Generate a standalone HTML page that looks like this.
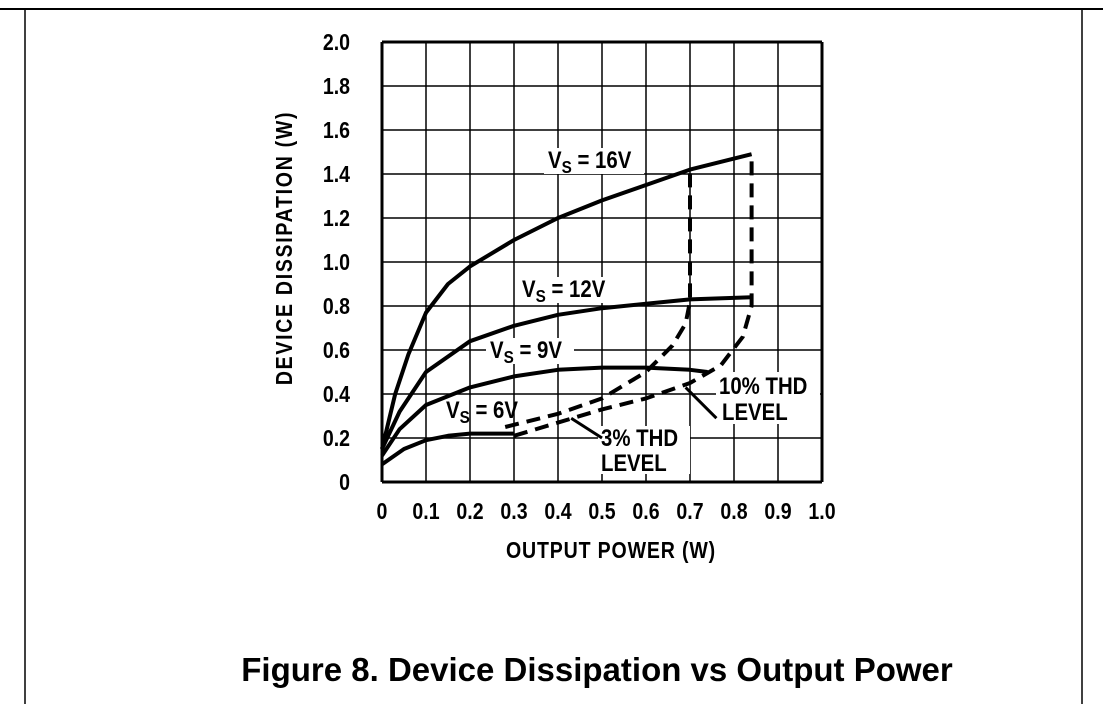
<!DOCTYPE html>
<html><head><meta charset="utf-8"><style>
body{margin:0;background:#fff;width:1103px;height:704px;overflow:hidden}
svg text{font-family:"Liberation Sans",sans-serif;font-weight:bold;fill:#000}
</style></head><body>
<svg id="chart" width="1103" height="704" xmlns="http://www.w3.org/2000/svg">
<line x1="0" y1="9" x2="1103" y2="9" stroke="#000" stroke-width="2"/>
<line x1="25" y1="9" x2="25" y2="704" stroke="#000" stroke-width="1.5"/>
<line x1="1082" y1="9" x2="1082" y2="704" stroke="#000" stroke-width="1.5"/>
<g id="grid"></g>
<g id="ticks"></g>
<g id="series"></g>
<text transform="translate(292,248) rotate(-90) scale(0.85,1)" text-anchor="middle" font-size="23" letter-spacing="2">DEVICE DISSIPATION (W)</text>
<text transform="translate(611,558) scale(0.85,1)" text-anchor="middle" font-size="23" letter-spacing="1">OUTPUT POWER (W)</text>
<text x="597" y="681" text-anchor="middle" font-size="33">Figure 8. Device Dissipation vs Output Power</text>
</svg>
<script>
const xTicks=["0","0.1","0.2","0.3","0.4","0.5","0.6","0.7","0.8","0.9","1.0"];
const yTicks=["0","0.2","0.4","0.6","0.8","1.0","1.2","1.4","1.6","1.8","2.0"];
const vs16=[[0,0.15],[0.03,0.4],[0.06,0.58],[0.1,0.77],[0.15,0.9],[0.2,0.98],[0.3,1.1],[0.4,1.2],[0.5,1.28],[0.6,1.35],[0.7,1.42],[0.8,1.47],[0.84,1.49]];
const vs12=[[0,0.15],[0.04,0.32],[0.1,0.5],[0.2,0.64],[0.3,0.71],[0.4,0.76],[0.5,0.79],[0.6,0.81],[0.7,0.83],[0.84,0.84]];
const vs9=[[0,0.12],[0.04,0.24],[0.1,0.35],[0.2,0.43],[0.3,0.48],[0.4,0.51],[0.5,0.52],[0.6,0.52],[0.7,0.51],[0.74,0.5]];
const vs6=[[0,0.08],[0.05,0.15],[0.1,0.19],[0.15,0.21],[0.2,0.22],[0.3,0.22]];
const thd3=[[0.28,0.25],[0.4,0.31],[0.5,0.38],[0.6,0.5],[0.66,0.62],[0.69,0.72],[0.7,0.82],[0.7,1.42]];
const thd10=[[0.3,0.21],[0.4,0.27],[0.5,0.33],[0.6,0.38],[0.7,0.45],[0.77,0.53],[0.82,0.66],[0.84,0.8],[0.84,1.49]];
const X=v=>382+v*440, Y=v=>482-v*220;
const NS="http://www.w3.org/2000/svg";
function mk(tag,parent,attrs){const e=document.createElementNS(NS,tag);for(const k in attrs)e.setAttribute(k,attrs[k]);parent.appendChild(e);return e;}
const grid=document.getElementById('grid');
for(let i=0;i<=10;i++){
 const a=mk('line',grid,{x1:X(i/10),y1:Y(0),x2:X(i/10),y2:Y(2),stroke:'#000','stroke-width':(i==0||i==10)?3:1.5});
 
 
 const b=mk('line',grid,{x1:X(0),y1:Y(i*0.2),x2:X(1),y2:Y(i*0.2),stroke:'#000','stroke-width':(i==0||i==10)?3:1.5});
 
 
}
const tk=document.getElementById('ticks');
xTicks.forEach((t,i)=>{const e=mk('text',tk,{transform:`translate(${X(i/10)},519) scale(0.85,1)`,'text-anchor':'middle','font-size':23});e.textContent=t;
 
 });
yTicks.forEach((t,i)=>{const e=mk('text',tk,{transform:`translate(350,${Y(i*0.2)+8}) scale(0.85,1)`,'text-anchor':'end','font-size':23});e.textContent=t;
 
 });
const sg=document.getElementById('series');
function line(d,name,dash){
 const p=mk('path',sg,{d:'M'+d.map(q=>X(q[0]).toFixed(1)+','+Y(q[1]).toFixed(1)).join(' L'),fill:'none',stroke:'#000','stroke-width':4,'stroke-linejoin':'round'});
 if(dash)p.setAttribute('stroke-dasharray','14,8');
 
 
}
line(vs16,'line-vs-16v');line(vs12,'line-vs-12v');line(vs9,'line-vs-9v');line(vs6,'line-vs-6v');
line(thd3,'line-3pct-thd',true);line(thd10,'line-10pct-thd',true);
function lab(x,y,main,sub,rest,name,w){
 const bg=mk('rect',sg,{x:x-4,y:y-20,width:w,height:26,fill:'#fff'});
 
 
 const t=mk('text',sg,{transform:`translate(${x},${y}) scale(0.85,1)`,'font-size':24});
 
 
 t.innerHTML=`${main}<tspan font-size="18" dy="5">${sub}</tspan><tspan dy="-5">${rest}</tspan>`;
}
lab(548,168,'V','S',' = 16V','label-vs-16v',100);
lab(522,297,'V','S',' = 12V','label-vs-12v',100);
lab(490,358,'V','S',' = 9V','label-vs-9v',88);
lab(446,418,'V','S',' = 6V','label-vs-6v',0);
function txt(x,y,s,name){const t=mk('text',sg,{transform:`translate(${x},${y}) scale(0.85,1)`,'font-size':24});t.textContent=s;
 
 }
const r1=mk('rect',sg,{x:716,y:372,width:104,height:52,fill:'#fff'});
const r2=mk('rect',sg,{x:598,y:426,width:92,height:48,fill:'#fff'});
txt(719,394,'10% THD','label-10pct-thd');txt(722,420,'LEVEL','label-10pct-level');
txt(601,446,'3% THD','label-3pct-thd');txt(601,471,'LEVEL','label-3pct-level');
const a1=mk('path',sg,{d:`M${X(0.76)},${Y(0.29)} L${X(0.69)},${Y(0.43)}`,stroke:'#000','stroke-width':3,fill:'none'});
const a2=mk('path',sg,{d:`M${X(0.5)},${Y(0.2)} L${X(0.43)},${Y(0.29)}`,stroke:'#000','stroke-width':3,fill:'none'});
</script>
</body></html>
